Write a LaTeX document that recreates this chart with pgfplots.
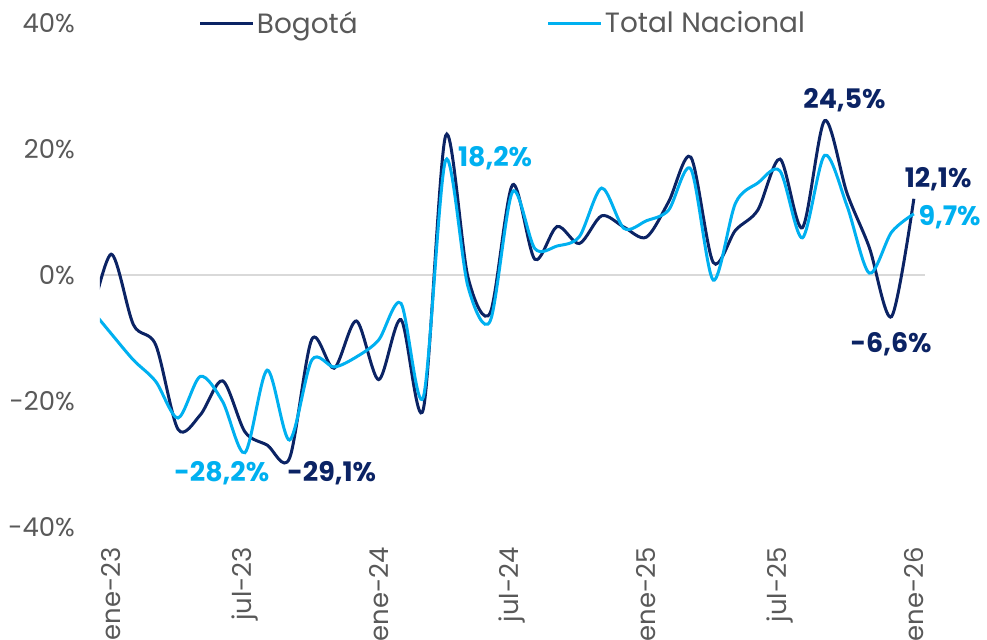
\documentclass[border=0pt]{standalone}
\usepackage{fontspec}
\setmainfont{Poppins}
\usepackage{pgfplots}
\pgfplotsset{compat=1.18}
\usepackage{pgfplotstable}
\definecolor{bog}{HTML}{0B2364}
\definecolor{nac}{HTML}{00B0F0}
\definecolor{txt}{HTML}{595959}
\definecolor{grd}{HTML}{D9D9D9}
\pgfplotstableread{
i bog nac
-1 -8.5 -5.0
0 3.3 -9.3
1 -7.9 -13.5
2 -11.1 -16.9
3 -24.5 -22.7
4 -22.2 -16.1
5 -16.8 -20.1
6 -24.9 -28.2
7 -27.0 -15.1
8 -29.1 -26.2
9 -10.2 -13.5
10 -14.8 -14.6
11 -7.3 -13.0
12 -16.6 -10.3
13 -7.1 -4.5
14 -21.3 -19.4
15 22.1 18.2
16 -0.3 -1.8
17 -6.0 -7.3
18 14.3 13.2
19 2.5 4.2
20 7.7 4.6
21 5.0 6.1
22 9.4 13.8
23 7.6 7.4
24 6.0 8.6
25 11.6 10.3
26 18.7 16.8
27 2.0 -0.8
28 7.1 11.4
29 10.3 14.6
30 18.4 16.5
31 7.5 5.9
32 24.5 19.0
33 13.0 11.0
34 4.4 0.3
35 -6.6 6.8
36 12.1 9.7
}\datatable
\begin{document}
\begin{tikzpicture}
\begin{axis}[
  at={(0,0)}, anchor=south west,
  width=825bp, height=504bp, scale only axis,
  xmin=-0.5, xmax=36.5, ymin=-40, ymax=40,
  clip mode=individual,
  axis line style={draw=none},
  tick style={draw=none},
  major tick length=0pt,
  xtick={0,6,...,36},
  xticklabels={ene-23,jul-23,ene-24,jul-24,ene-25,jul-25,ene-26},
  ytick={-40,-20,0,20,40},
  yticklabels={-40\%,-20\%,0\%,20\%,40\%},
  extra y ticks={0},
  extra y tick labels={},
  extra y tick style={grid=major, major grid style={color=grd, line width=2bp}},
  ticklabel style={font=\fontsize{26}{30}\selectfont, text=txt},
  yticklabel style={anchor=east, inner sep=0pt, xshift=-25bp},
  xticklabel style={yshift=-20bp, rotate=90, anchor=east, inner sep=0pt},
  legend columns=2,
  legend style={at={(0.12,1)}, anchor=west, draw=none, fill=none,
    inner sep=0pt, outer sep=0pt, font=\fontsize{28}{32}\selectfont, text=txt,
    nodes={inner sep=2bp},
    /tikz/every even column/.append style={column sep=183bp}},
  legend cell align=left,
  legend image code/.code={\draw[#1] (0bp,0bp) -- (53bp,0bp);},
]
\addplot[bog, line width=3bp, smooth] table[x=i, y=bog] {\datatable};
\addlegendentry{\makebox[105bp][l]{Bogotá}}
\addplot[nac, line width=3bp, smooth] table[x=i, y=nac] {\datatable};
\addlegendentry{Total Nacional}

\node[nac, font=\bfseries\fontsize{27}{30}\selectfont, anchor=base] at (axis cs:4.96,-32.7) {-28,2\%};
\node[bog, font=\bfseries\fontsize{27}{30}\selectfont, anchor=base] at (axis cs:9.89,-32.7) {-29,1\%};
\node[nac, font=\bfseries\fontsize{27}{30}\selectfont, anchor=base] at (axis cs:17.22,17.2) {18,2\%};
\node[bog, font=\bfseries\fontsize{27}{30}\selectfont, anchor=base] at (axis cs:32.89,26.45) {24,5\%};
\node[bog, font=\bfseries\fontsize{27}{30}\selectfont, anchor=base] at (axis cs:37.09,13.9) {12,1\%};
\node[nac, font=\bfseries\fontsize{27}{30}\selectfont, anchor=base] at (axis cs:37.6,7.78) {9,7\%};
\node[bog, font=\bfseries\fontsize{27}{30}\selectfont, anchor=base] at (axis cs:34.98,-12.33) {-6,6\%};
\end{axis}
\pgfresetboundingbox
\path[use as bounding box] (-100bp,-113bp) rectangle (887bp,527bp);
\end{tikzpicture}
\end{document}
